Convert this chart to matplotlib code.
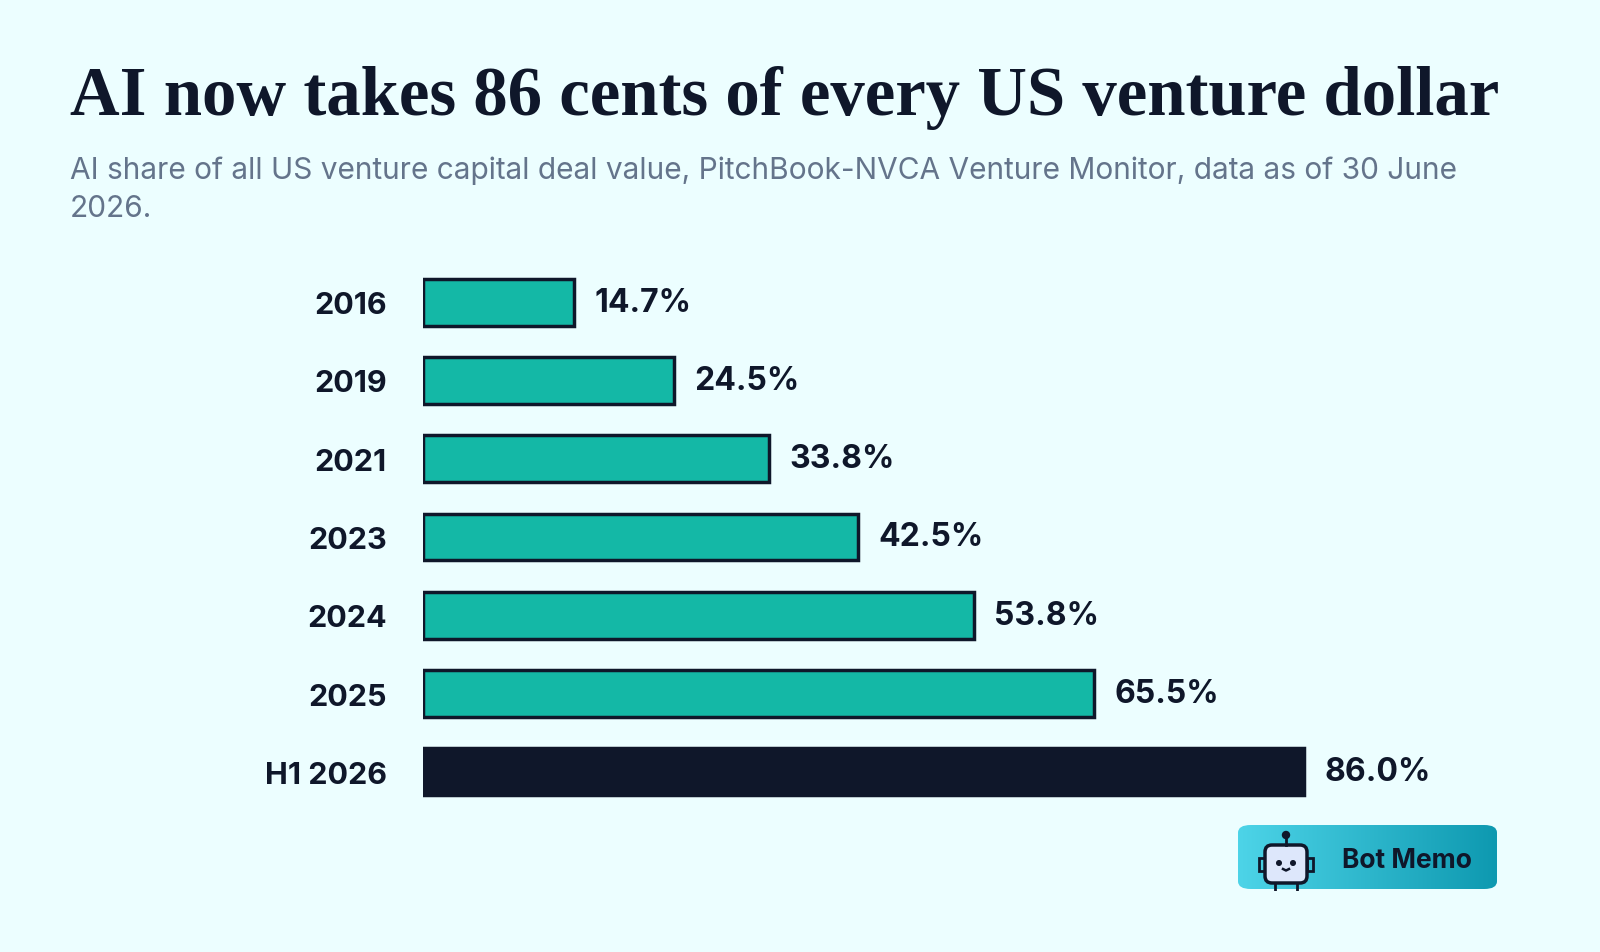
import numpy as np
import matplotlib
matplotlib.use("Agg")
import matplotlib.pyplot as plt
from matplotlib.patches import FancyBboxPatch, Circle, Rectangle
from matplotlib.colors import LinearSegmentedColormap

# data
years = ["2016", "2019", "2021", "2023", "2024", "2025", "H1 2026"]
ai_share = [14.7, 24.5, 33.8, 42.5, 53.8, 65.5, 86.0]

BG = "#ecfeff"
TEAL = "#14b8a6"
DARK = "#0f172a"
GREY = "#64748b"

fig = plt.figure(figsize=(16, 9.53), dpi=100, facecolor=BG)

fig.text(70 / 1600, 1 - 98 / 953, "AI now takes 86 cents of every US venture dollar",
         fontsize=49.5, fontweight="bold", family="Liberation Serif", color=DARK, va="center")
fig.text(70 / 1600, 1 - 171 / 953,
         "AI share of all US venture capital deal value, PitchBook-NVCA Venture Monitor, data as of 30 June",
         fontsize=21.5, family="Inter", color=GREY, va="center")
fig.text(70 / 1600, 1 - 209 / 953, "2026.", fontsize=21.5, family="Inter", color=GREY, va="center")

ax = fig.add_axes([423 / 1600, 1 - 812 / 953, 1024 / 1600, 548 / 953])
ax.set_facecolor(BG)
ypos = np.arange(len(years))
colors = [TEAL] * (len(years) - 1) + [DARK]
ax.barh(ypos, ai_share, height=0.6, color=colors, edgecolor=DARK, linewidth=2.5)
for y, v in zip(ypos, ai_share):
    ax.text(v + 2, y, f"{v:.1f}%", va="center", ha="left", fontsize=23,
            fontweight="bold", family="Inter", color=DARK)
ax.set_yticks(ypos)
ax.set_yticklabels(years, fontsize=22, fontweight="bold", family="Inter", color=DARK)
ax.tick_params(axis="y", length=0, pad=26)
ax.set_xticks([])
ax.set_xlim(0, 100)
ax.set_ylim(len(years) - 0.5, -0.5)
for s in ax.spines.values():
    s.set_visible(False)

# logo badge
lx0, ly0, lw, lh = 1238 / 1600, 1 - 890 / 953, 259 / 1600, 64 / 953
box = FancyBboxPatch((lx0, ly0), lw, lh, boxstyle="round,pad=0,rounding_size=0.008",
                     transform=fig.transFigure, facecolor="none", edgecolor="none")
fig.add_artist(box)
grad = np.linspace(0, 1, 256).reshape(1, -1)
cmap = LinearSegmentedColormap.from_list("g", ["#4dd4e8", "#0e99b0"])
gax = fig.add_axes([lx0, ly0, lw, lh])
gax.axis("off")
im = gax.imshow(grad, aspect="auto", cmap=cmap, extent=[0, 1, 0, 1])
im.set_clip_path(box)
fig.text(1342 / 1600, 1 - 861 / 953, "Bot Memo", fontsize=19, fontweight="bold",
         family="Inter", color=DARK, va="center")
# little robot
rax = fig.add_axes([1256 / 1600, 1 - 892 / 953, 60 / 1600, 62 / 953])
rax.set_xlim(0, 60)
rax.set_ylim(0, 62)
rax.axis("off")
rax.add_patch(Rectangle((3, 20), 6, 13, facecolor="none", edgecolor=DARK, lw=2))
rax.add_patch(Rectangle((51, 20), 6, 13, facecolor="none", edgecolor=DARK, lw=2))
rax.add_patch(FancyBboxPatch((9, 8), 42, 38, boxstyle="round,pad=0,rounding_size=7",
                             facecolor="#dde7fb", edgecolor=DARK, linewidth=2.5))
rax.add_patch(Circle((30, 56), 3.5, color=DARK))
rax.plot([30, 30], [46, 53], color=DARK, lw=2)
rax.add_patch(Circle((23, 28), 2.3, color=DARK))
rax.add_patch(Circle((37, 28), 2.3, color=DARK))
rax.plot([27, 30, 33], [22, 20.5, 22], color=DARK, lw=1.8)
rax.plot([19, 19], [8, 0], color=DARK, lw=2)
rax.plot([41, 41], [8, 0], color=DARK, lw=2)

fig.savefig("out.png", dpi=100, facecolor=BG)
